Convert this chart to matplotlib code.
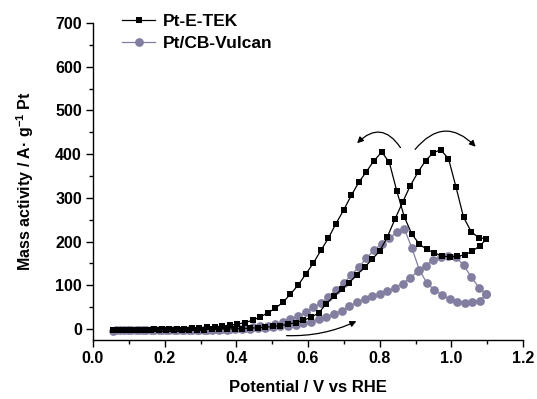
import matplotlib
matplotlib.use("Agg")
import matplotlib.pyplot as plt
import numpy as np

plt.rcParams['font.family'] = ['Liberation Sans', 'DejaVu Sans']
plt.rcParams['font.weight'] = 'bold'
plt.rcParams['mathtext.fontset'] = 'custom'
plt.rcParams['mathtext.rm'] = 'Liberation Sans:bold'
plt.rcParams['mathtext.bf'] = 'Liberation Sans:bold'
plt.rcParams['mathtext.default'] = 'bf'

# Potentials (V vs RHE)
potential_fwd = [0.055, 0.076, 0.098, 0.119, 0.140, 0.162, 0.183, 0.204, 0.225, 0.247,
                 0.268, 0.289, 0.311, 0.332, 0.353, 0.374, 0.396, 0.417, 0.438, 0.460,
                 0.481, 0.502, 0.523, 0.545, 0.566, 0.587, 0.609, 0.630, 0.651, 0.672,
                 0.694, 0.715, 0.736, 0.758, 0.779, 0.800, 0.821, 0.843, 0.864, 0.885,
                 0.907, 0.928, 0.949, 0.970, 0.992, 1.013, 1.034, 1.056, 1.077, 1.098]
potential_bwd = [1.098, 1.079, 1.058, 1.038, 1.017, 0.996, 0.975, 0.953, 0.932, 0.911,
                 0.890, 0.869, 0.848, 0.827, 0.806, 0.784, 0.763, 0.742, 0.721, 0.700,
                 0.678, 0.657, 0.636, 0.615, 0.594, 0.573, 0.551, 0.530, 0.509, 0.488,
                 0.467, 0.446, 0.424, 0.403, 0.382, 0.361, 0.340, 0.319, 0.297, 0.276,
                 0.255, 0.234, 0.213, 0.192, 0.170, 0.149, 0.128, 0.107, 0.086, 0.065]

# Pt-E-TEK mass activity (A/g Pt)
etek_fwd = [-3, -3, -3, -3, -2, -2, -2, -2, -2, -2,
            -1, -1, -1, 0, 0, 0, 1, 1, 2, 3,
            4, 6, 8, 11, 15, 20, 27, 37, 58, 75,
            91, 106, 124, 141, 160, 178, 210, 252, 290, 327,
            359, 385, 403, 410, 390, 325, 256, 222, 209, 206]
etek_bwd = [206, 190, 178, 170, 166, 165, 167, 174, 182, 194,
            217, 256, 315, 381, 405, 385, 360, 336, 306, 273,
            241, 208, 180, 151, 126, 101, 80, 61, 48, 37,
            28, 20, 15, 11, 9, 7, 5, 4, 3, 2,
            1, 1, 0, 0, 0, -1, -1, -1, -2, -2]

# Pt/CB-Vulcan mass activity (A/g Pt)
vulcan_fwd = [-4, -3, -3, -3, -3, -3, -3, -3, -2, -2,
              -2, -2, -2, -1, -1, -1, 0, 0, 1, 2,
              3, 4, 6, 8, 10, 13, 17, 22, 28, 35,
              42, 52, 61, 68, 75, 81, 86, 95, 104, 117,
              132, 145, 158, 165, 167, 165, 146, 119, 95, 80]
vulcan_bwd = [80, 65, 62, 60, 62, 68, 78, 89, 105, 135,
              185, 229, 222, 208, 195, 180, 162, 142, 124, 105,
              89, 73, 59, 50, 39, 29, 23, 16, 11, 8,
              6, 4, 3, 2, 1, 0, 0, -1, -1, -1,
              -2, -2, -2, -2, -3, -3, -3, -3, -3, -3]

series_labels = ['Pt-E-TEK', 'Pt/CB-Vulcan']
purple = '#827EA0'

fig = plt.figure(figsize=(5.37, 3.99), dpi=100)
ax = fig.add_axes([93/537, 1 - 340/399, 430/537, (340 - 23)/399])

x_all = potential_fwd + potential_bwd
ax.plot(x_all, etek_fwd + etek_bwd, color='black', lw=0.9, marker='s', ms=5,
        mfc='black', mec='black', mew=0, label=series_labels[0], zorder=3)
ax.plot(x_all, vulcan_fwd + vulcan_bwd, color=purple, lw=0.9, marker='o', ms=6.3,
        mfc=purple, mec=purple, mew=0, label=series_labels[1], zorder=2)

# Scan-direction arrows
ax.annotate('', xy=(0.735, 18), xytext=(0.54, -15),
            arrowprops=dict(arrowstyle='-|>', color='black', lw=0.9,
                            mutation_scale=9, connectionstyle='arc3,rad=0.12',
                            shrinkA=0, shrinkB=0))
ax.annotate('', xy=(0.737, 425), xytext=(0.858, 415),
            arrowprops=dict(arrowstyle='-|>', color='black', lw=0.9,
                            mutation_scale=9, connectionstyle='arc3,rad=0.6',
                            shrinkA=0, shrinkB=0))
ax.annotate('', xy=(1.068, 417), xytext=(0.899, 411),
            arrowprops=dict(arrowstyle='-|>', color='black', lw=0.9,
                            mutation_scale=9, connectionstyle='arc3,rad=-0.55',
                            shrinkA=0, shrinkB=0))

ax.set_xlim(0, 1.2)
ax.set_ylim(-25, 700)
ax.set_xticks([0.0, 0.2, 0.4, 0.6, 0.8, 1.0, 1.2])
ax.set_xticks(np.arange(0.1, 1.2, 0.2), minor=True)
ax.set_yticks([0, 100, 200, 300, 400, 500, 600, 700])
ax.set_yticks(np.arange(50, 700, 100), minor=True)
ax.xaxis.set_major_formatter(matplotlib.ticker.FormatStrFormatter('%.1f'))

for s in ['top', 'right']:
    ax.spines[s].set_visible(False)
for s in ['left', 'bottom']:
    ax.spines[s].set_linewidth(1.0)

ax.tick_params(which='major', direction='out', length=5, width=1, labelsize=11.5, pad=3)
ax.tick_params(which='minor', direction='out', length=3, width=1)
for lbl in ax.get_xticklabels() + ax.get_yticklabels():
    lbl.set_fontweight('bold')

ax.set_xlabel('Potential / V vs RHE', fontsize=12, fontweight='bold', labelpad=10)
ax.set_ylabel('Mass activity / A\u00b7 g$^{-1}$ Pt', fontsize=11.5, fontweight='bold', labelpad=14)

leg = ax.legend(loc='upper left', bbox_to_anchor=(0.052, 1.05), frameon=False,
                prop={'weight': 'bold', 'size': 12.5}, handlelength=1.9,
                handletextpad=0.45, labelspacing=0.38, borderaxespad=0)

fig.savefig('out.png', dpi=100)
